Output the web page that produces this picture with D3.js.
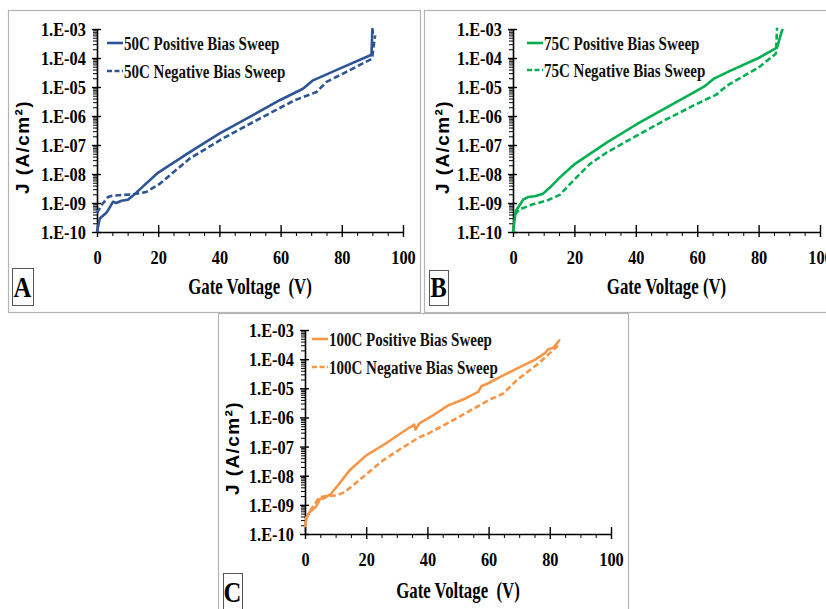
<!DOCTYPE html>
<html><head><meta charset="utf-8">
<script src="https://cdn.jsdelivr.net/npm/d3@7"></script>
<style>
html,body{margin:0;padding:0;background:#fff;}
svg{display:block;}
text{white-space:pre;}
</style></head>
<body>
<svg id="c" width="826" height="609"></svg>
<script>
// ---------- data ----------
const xTicks = [0, 20, 40, 60, 80, 100];
const yTicks = [1e-10, 1e-9, 1e-8, 1e-7, 1e-6, 1e-5, 1e-4, 1e-3];
const yTickLabels = ["1.E-10","1.E-09","1.E-08","1.E-07","1.E-06","1.E-05","1.E-04","1.E-03"];
const xTitles = ["Gate Voltage  (V)", "Gate Voltage (V)", "Gate Voltage  (V)"];
const yTitle = "J (A/cm²)";
const panelLetters = ["A", "B", "C"];
const seriesNames = [
  ["50C Positive Bias Sweep", "50C Negative Bias Sweep"],
  ["75C Positive Bias Sweep", "75C Negative Bias Sweep"],
  ["100C Positive Bias Sweep", "100C Negative Bias Sweep"]
];

const v50pos = [0, 0.9, 3.0, 3.6, 5.2, 6.3, 8.0, 10.1, 11.8, 13.9, 19.9, 30.3, 40.1, 49.9, 59.7, 67.3, 70.6, 79.3, 89.7, 90.0, 90.2];
const j50pos = [1e-10, 2.9e-10, 4.5e-10, 5.6e-10, 1.1e-9, 1.0e-9, 1.2e-9, 1.3e-9, 1.8e-9, 2.9e-9, 1.1e-8, 5.7e-8, 2.5e-7, 9.3e-7, 3.5e-6, 8.7e-6, 1.7e-5, 4.3e-5, 1.3e-4, 1.0e-3, 7e-4];
const v50neg = [0, 1.4, 3.6, 5.2, 11.8, 16.1, 20.5, 30.3, 41.2, 52.1, 64.6, 71.7, 75.0, 80.4, 89.9, 90.5, 90.9];
const j50neg = [4.5e-10, 8.3e-10, 1.6e-9, 1.8e-9, 2.0e-9, 2.4e-9, 4.6e-9, 3.4e-8, 1.7e-7, 7.1e-7, 3.5e-6, 6.7e-6, 1.5e-5, 2.9e-5, 9.5e-5, 3e-4, 6e-4];

const v75pos = [0, 0.9, 1.6, 3.3, 4.9, 7.1, 9.8, 12.0, 15.2, 20.1, 30.5, 40.3, 50.1, 59.8, 62.6, 65.3, 70.7, 80.0, 86.0, 87.6, 87.9];
const j75pos = [1e-10, 5.3e-10, 6.9e-10, 1.3e-9, 1.6e-9, 1.7e-9, 2.1e-9, 3.4e-9, 7.5e-9, 2.2e-8, 1.2e-7, 5.2e-7, 2.0e-6, 7.4e-6, 1.1e-5, 1.9e-5, 3.6e-5, 1.0e-4, 2.3e-4, 8.7e-4, 1.0e-3];
const v75neg = [0.5, 2.2, 6.5, 10.9, 15.2, 20.1, 25.0, 30.5, 40.3, 50.1, 59.8, 66.4, 69.6, 80.0, 85.6, 85.8, 86.0];
const j75neg = [4e-10, 6e-10, 9e-10, 1.2e-9, 1.9e-9, 6.6e-9, 2.2e-8, 5.5e-8, 2.1e-7, 7.8e-7, 2.6e-6, 5.6e-6, 1.1e-5, 4.7e-5, 1.4e-4, 3e-4, 1.1e-3];

const v100pos = [0, 0.5, 1.4, 3.6, 4.9, 6.3, 8.5, 10.1, 14.5, 19.9, 26.5, 34.1, 35.7, 36.1, 37.4, 41.4, 46.8, 52.3, 56.6, 57.7, 59.4, 64.3, 69.2, 75.2, 78.4, 79.3, 81.2, 83.3];
const j100pos = [1.7e-10, 3.7e-10, 5.5e-10, 8.7e-10, 1.6e-9, 1.7e-9, 2.4e-9, 3.8e-9, 1.5e-8, 4.9e-8, 1.3e-7, 4.5e-7, 5.7e-7, 3.8e-7, 6.3e-7, 1.1e-6, 2.6e-6, 4.4e-6, 7.5e-6, 1.2e-5, 1.4e-5, 2.6e-5, 4.7e-5, 9.6e-5, 1.6e-4, 2.1e-4, 2.5e-4, 4.7e-4];
const v100neg = [0.3, 2.0, 4.7, 6.9, 10.1, 12.9, 15.6, 19.9, 25.4, 30.8, 37.4, 40.3, 50.1, 59.9, 64.8, 69.2, 76.3, 82.2, 83.0];
const j100neg = [3.3e-10, 7.2e-10, 1.8e-9, 2.0e-9, 2.1e-9, 2.7e-9, 4.6e-9, 1.1e-8, 3.3e-8, 7.8e-8, 2.1e-7, 2.8e-7, 1.0e-6, 3.9e-6, 6.6e-6, 1.9e-5, 7.1e-5, 2.6e-4, 3.2e-4];

const seriesData = [
  [[v50pos, j50pos], [v50neg, j50neg]],
  [[v75pos, j75pos], [v75neg, j75neg]],
  [[v100pos, j100pos], [v100neg, j100neg]]
];
const colors = ["#2D5596", "#00B050", "#F79646"];

// ---------- layout ----------
const layouts = [
  {frame:[8,10,412,302], plot:[97,403,29,232], xTitleY:294, yTitleX:21.5, yTitleY:147, leg:[107,123,43,71], box:[12,268,21,37]},
  {frame:[424,10,410,302], plot:[513,820,29,232], xTitleY:294, yTitleX:441.5, yTitleY:147, leg:[527,543,43,70], box:[429,270,19,35]},
  {frame:[218,313,410,300], plot:[305,611,330,534], xTitleY:598, yTitleX:231.5, yTitleY:448, leg:[312,328,339,367], box:[223,573,19,37]}
];

const svg = d3.select("#c");
const serif = "'Liberation Serif','Times New Roman',serif";
const sans = "'Liberation Sans',Arial,sans-serif";

layouts.forEach((L, pi) => {
  const g = svg.append("g");
  g.append("rect").attr("x", L.frame[0]+0.5).attr("y", L.frame[1]+0.5)
    .attr("width", L.frame[2]).attr("height", L.frame[3])
    .attr("fill", "none").attr("stroke", "#b4b4b4").attr("stroke-width", 1.2);

  const [left, right, top, bottom] = L.plot;
  const x = d3.scaleLinear().domain([0, 100]).range([left, right]);
  const y = d3.scaleLog().domain([1e-10, 1e-3]).range([bottom, top]);

  // y minor ticks
  const minor = [];
  for (let e = -10; e < -3; e++) for (let k = 2; k <= 9; k++) minor.push(k * Math.pow(10, e));
  g.append("g").attr("transform", `translate(${left},0)`)
    .call(d3.axisLeft(y).tickValues(minor).tickSize(4).tickFormat(""))
    .call(a => a.select(".domain").remove())
    .selectAll("line").attr("stroke", "#000").attr("stroke-width", 1);

  // y major axis
  const ya = g.append("g").attr("transform", `translate(${left},0)`)
    .call(d3.axisLeft(y).tickValues(yTicks).tickSizeInner(5).tickSizeOuter(0).tickPadding(8)
      .tickFormat((d, i) => yTickLabels[i]));
  ya.select(".domain").attr("stroke", "#000").attr("stroke-width", 1.6);
  ya.selectAll(".tick line").attr("x2", -5).attr("x1", 4).attr("stroke", "#000").attr("stroke-width", 1.4);
  ya.selectAll(".tick text").attr("font-family", serif).attr("font-weight", "bold")
    .attr("font-size", 19).attr("fill", "#000").attr("dy", "0.34em")
    .attr("transform", "scale(0.86,1)");

  // x minor ticks
  const xminor = d3.range(5, 100, 5).filter(v => v % 20 !== 0);
  g.append("g").attr("transform", `translate(0,${bottom})`)
    .call(d3.axisBottom(x).tickValues(xminor).tickSize(4).tickFormat(""))
    .call(a => a.select(".domain").remove())
    .selectAll("line").attr("stroke", "#000").attr("stroke-width", 1);

  const xa = g.append("g").attr("transform", `translate(0,${bottom})`)
    .call(d3.axisBottom(x).tickValues(xTicks).tickSizeInner(5).tickSizeOuter(0).tickPadding(14));
  xa.select(".domain").attr("stroke", "#000").attr("stroke-width", 1.6);
  xa.selectAll(".tick line").attr("y1", -7).attr("y2", 5).attr("stroke", "#000").attr("stroke-width", 1.4);
  xa.selectAll(".tick text").attr("font-family", serif).attr("font-weight", "bold")
    .attr("font-size", 19).attr("fill", "#000").style("transform", "scaleX(0.86)");

  // series lines
  const line = d3.line().x(d => x(d[0])).y(d => y(d[1]));
  seriesData[pi].forEach((s, si) => {
    const pts = s[0].map((v, i) => [v, s[1][i]]);
    g.append("path").datum(pts).attr("d", line)
      .attr("fill", "none").attr("stroke", colors[pi]).attr("stroke-width", 2.6)
      .attr("stroke-linejoin", "round")
      .attr("stroke-dasharray", si === 1 ? "6,3" : null);
  });

  // legend
  const [lx1, lx2, ly1, ly2] = L.leg;
  [ly1, ly2].forEach((ly, si) => {
    g.append("line").attr("x1", lx1).attr("x2", lx2).attr("y1", ly).attr("y2", ly)
      .attr("stroke", colors[pi]).attr("stroke-width", 2.6)
      .attr("stroke-dasharray", si === 1 ? "5,2.5" : null);
    g.append("text").attr("transform", `translate(${lx2 + 1},${ly + 6.5}) scale(0.77,1)`)
      .attr("font-family", serif).attr("font-weight", "bold").attr("font-size", 19.5)
      .attr("fill", "#111").text(seriesNames[pi][si]);
  });

  // x title
  g.append("text").attr("transform", `translate(${(left + right) / 2},${L.xTitleY}) scale(0.7,1)`)
    .attr("text-anchor", "middle").attr("font-family", serif).attr("font-weight", "bold")
    .attr("font-size", 24).attr("fill", "#000").text(xTitles[pi]);

  // y title
  g.append("text").attr("transform", `translate(${L.yTitleX + 7},${L.yTitleY}) rotate(-90)`)
    .attr("text-anchor", "middle").attr("font-family", sans).attr("font-weight", "bold")
    .attr("font-size", 19).attr("letter-spacing", 1.4).attr("fill", "#000").text(yTitle);

  // panel letter box
  const [bx, by, bw, bh] = L.box;
  g.append("rect").attr("x", bx + 0.5).attr("y", by + 0.5).attr("width", bw).attr("height", bh)
    .attr("fill", "#fff").attr("stroke", "#555").attr("stroke-width", 1);
  g.append("text").attr("transform", `translate(${bx + bw / 2},${by + bh - 8}) scale(0.85,1)`)
    .attr("text-anchor", "middle").attr("font-family", serif).attr("font-weight", "bold")
    .attr("font-size", 29).attr("fill", "#000").text(panelLetters[pi]);
});
</script>
</body></html>
